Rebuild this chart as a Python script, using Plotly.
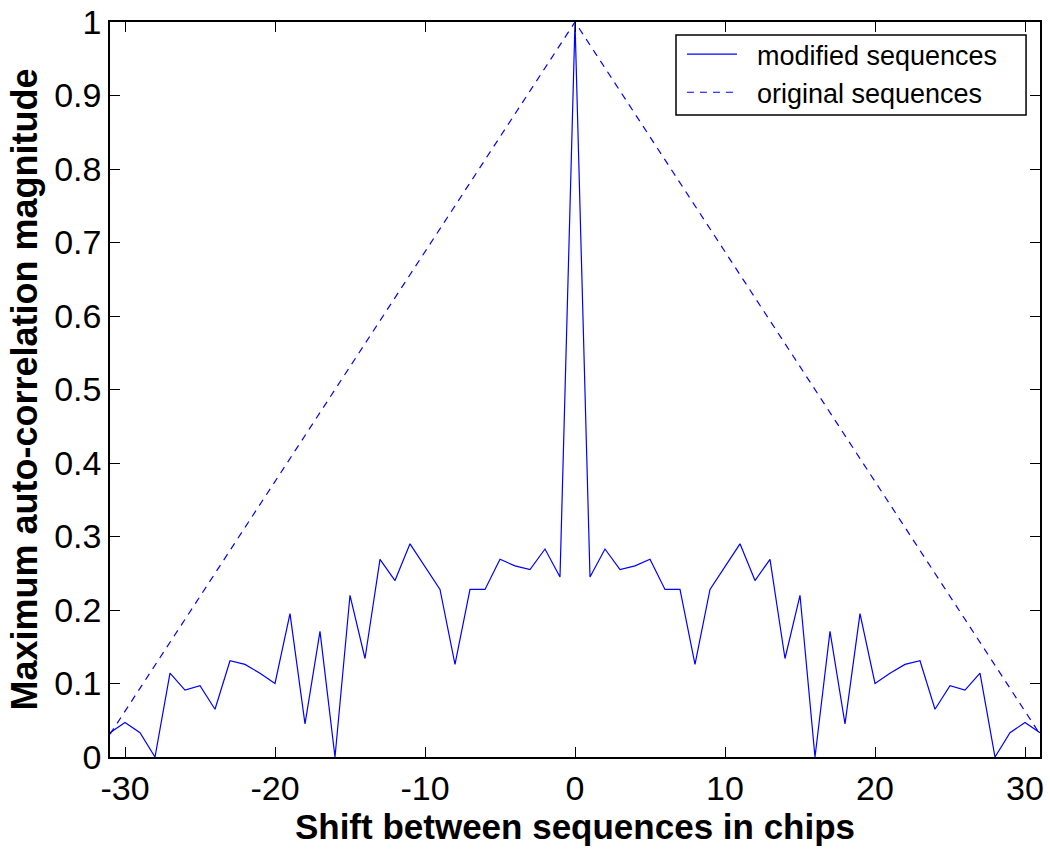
import plotly.graph_objects as go

shift = list(range(-31, 32))
modified_half = [0.033, 0.047, 0.033, 0.0, 0.114, 0.091, 0.097, 0.065, 0.131, 0.126,
                 0.114, 0.100, 0.195, 0.045, 0.171, 0.0, 0.220, 0.134, 0.269, 0.240,
                 0.290, 0.259, 0.228, 0.126, 0.228, 0.228, 0.269, 0.260, 0.255, 0.283,
                 0.245]
modified_peak = 1.0
modified = modified_half + [modified_peak] + modified_half[::-1]

original_x = [-31, 0, 31]
original_y = [0.031, 1.0, 0.031]

x_ticks = [-30, -20, -10, 0, 10, 20, 30]
x_tick_text = ["-30", "-20", "-10", "0", "10", "20", "30"]
y_ticks = [0, 0.1, 0.2, 0.3, 0.4, 0.5, 0.6, 0.7, 0.8, 0.9, 1]
y_tick_text = ["0", "0.1", "0.2", "0.3", "0.4", "0.5", "0.6", "0.7", "0.8", "0.9", "1"]

FONT = "Liberation Sans, Arial, sans-serif"
PAD = "\u00a0\u00a0"

fig = go.Figure()
fig.add_trace(go.Scatter(x=shift, y=modified, mode="lines", name=PAD + "modified sequences",
                         line=dict(color="#0000FF", width=1.2)))
fig.add_trace(go.Scatter(x=original_x, y=original_y, mode="lines", name=PAD + "original sequences",
                         line=dict(color="#0000FF", width=1.2, dash="7px,6px")))

axis_common = dict(showline=True, linecolor="black", linewidth=1.5, mirror="ticks",
                   ticks="inside", ticklen=10, tickcolor="black", tickwidth=1,
                   showgrid=False, zeroline=False, automargin=False,
                   tickfont=dict(family=FONT, size=34, color="black"))

fig.update_xaxes(range=[-31, 31], tickvals=x_ticks, ticktext=x_tick_text, **axis_common,
                 title=dict(text="<b>Shift between sequences in chips</b>",
                            font=dict(family=FONT, size=35, color="black"), standoff=6))
fig.update_yaxes(range=[0, 1], tickvals=y_ticks, ticktext=y_tick_text, **axis_common,
                 title=dict(text="<b>Maximum auto-correlation magnitude</b>",
                            font=dict(family=FONT, size=36, color="black"), standoff=6))

# legend frame
fig.add_shape(type="rect", xref="paper", yref="paper",
              x0=0.6086, x1=0.985, y0=0.8735, y1=0.9823,
              line=dict(color="black", width=1.5), fillcolor="white", layer="above")

fig.update_layout(
    width=1050, height=850,
    margin=dict(l=110, r=10, t=22, b=93, autoexpand=False),
    plot_bgcolor="white", paper_bgcolor="white",
    legend=dict(x=0.615, y=0.989, xanchor="left", yanchor="top",
                borderwidth=0, bgcolor="rgba(0,0,0,0)",
                font=dict(family=FONT, size=27, color="black"),
                tracegroupgap=0, itemwidth=50),
    showlegend=True,
)

fig.write_html("out.html", config={"displayModeBar": False},
               post_script="document.body.style.margin='0px';document.body.style.overflow='hidden';")
